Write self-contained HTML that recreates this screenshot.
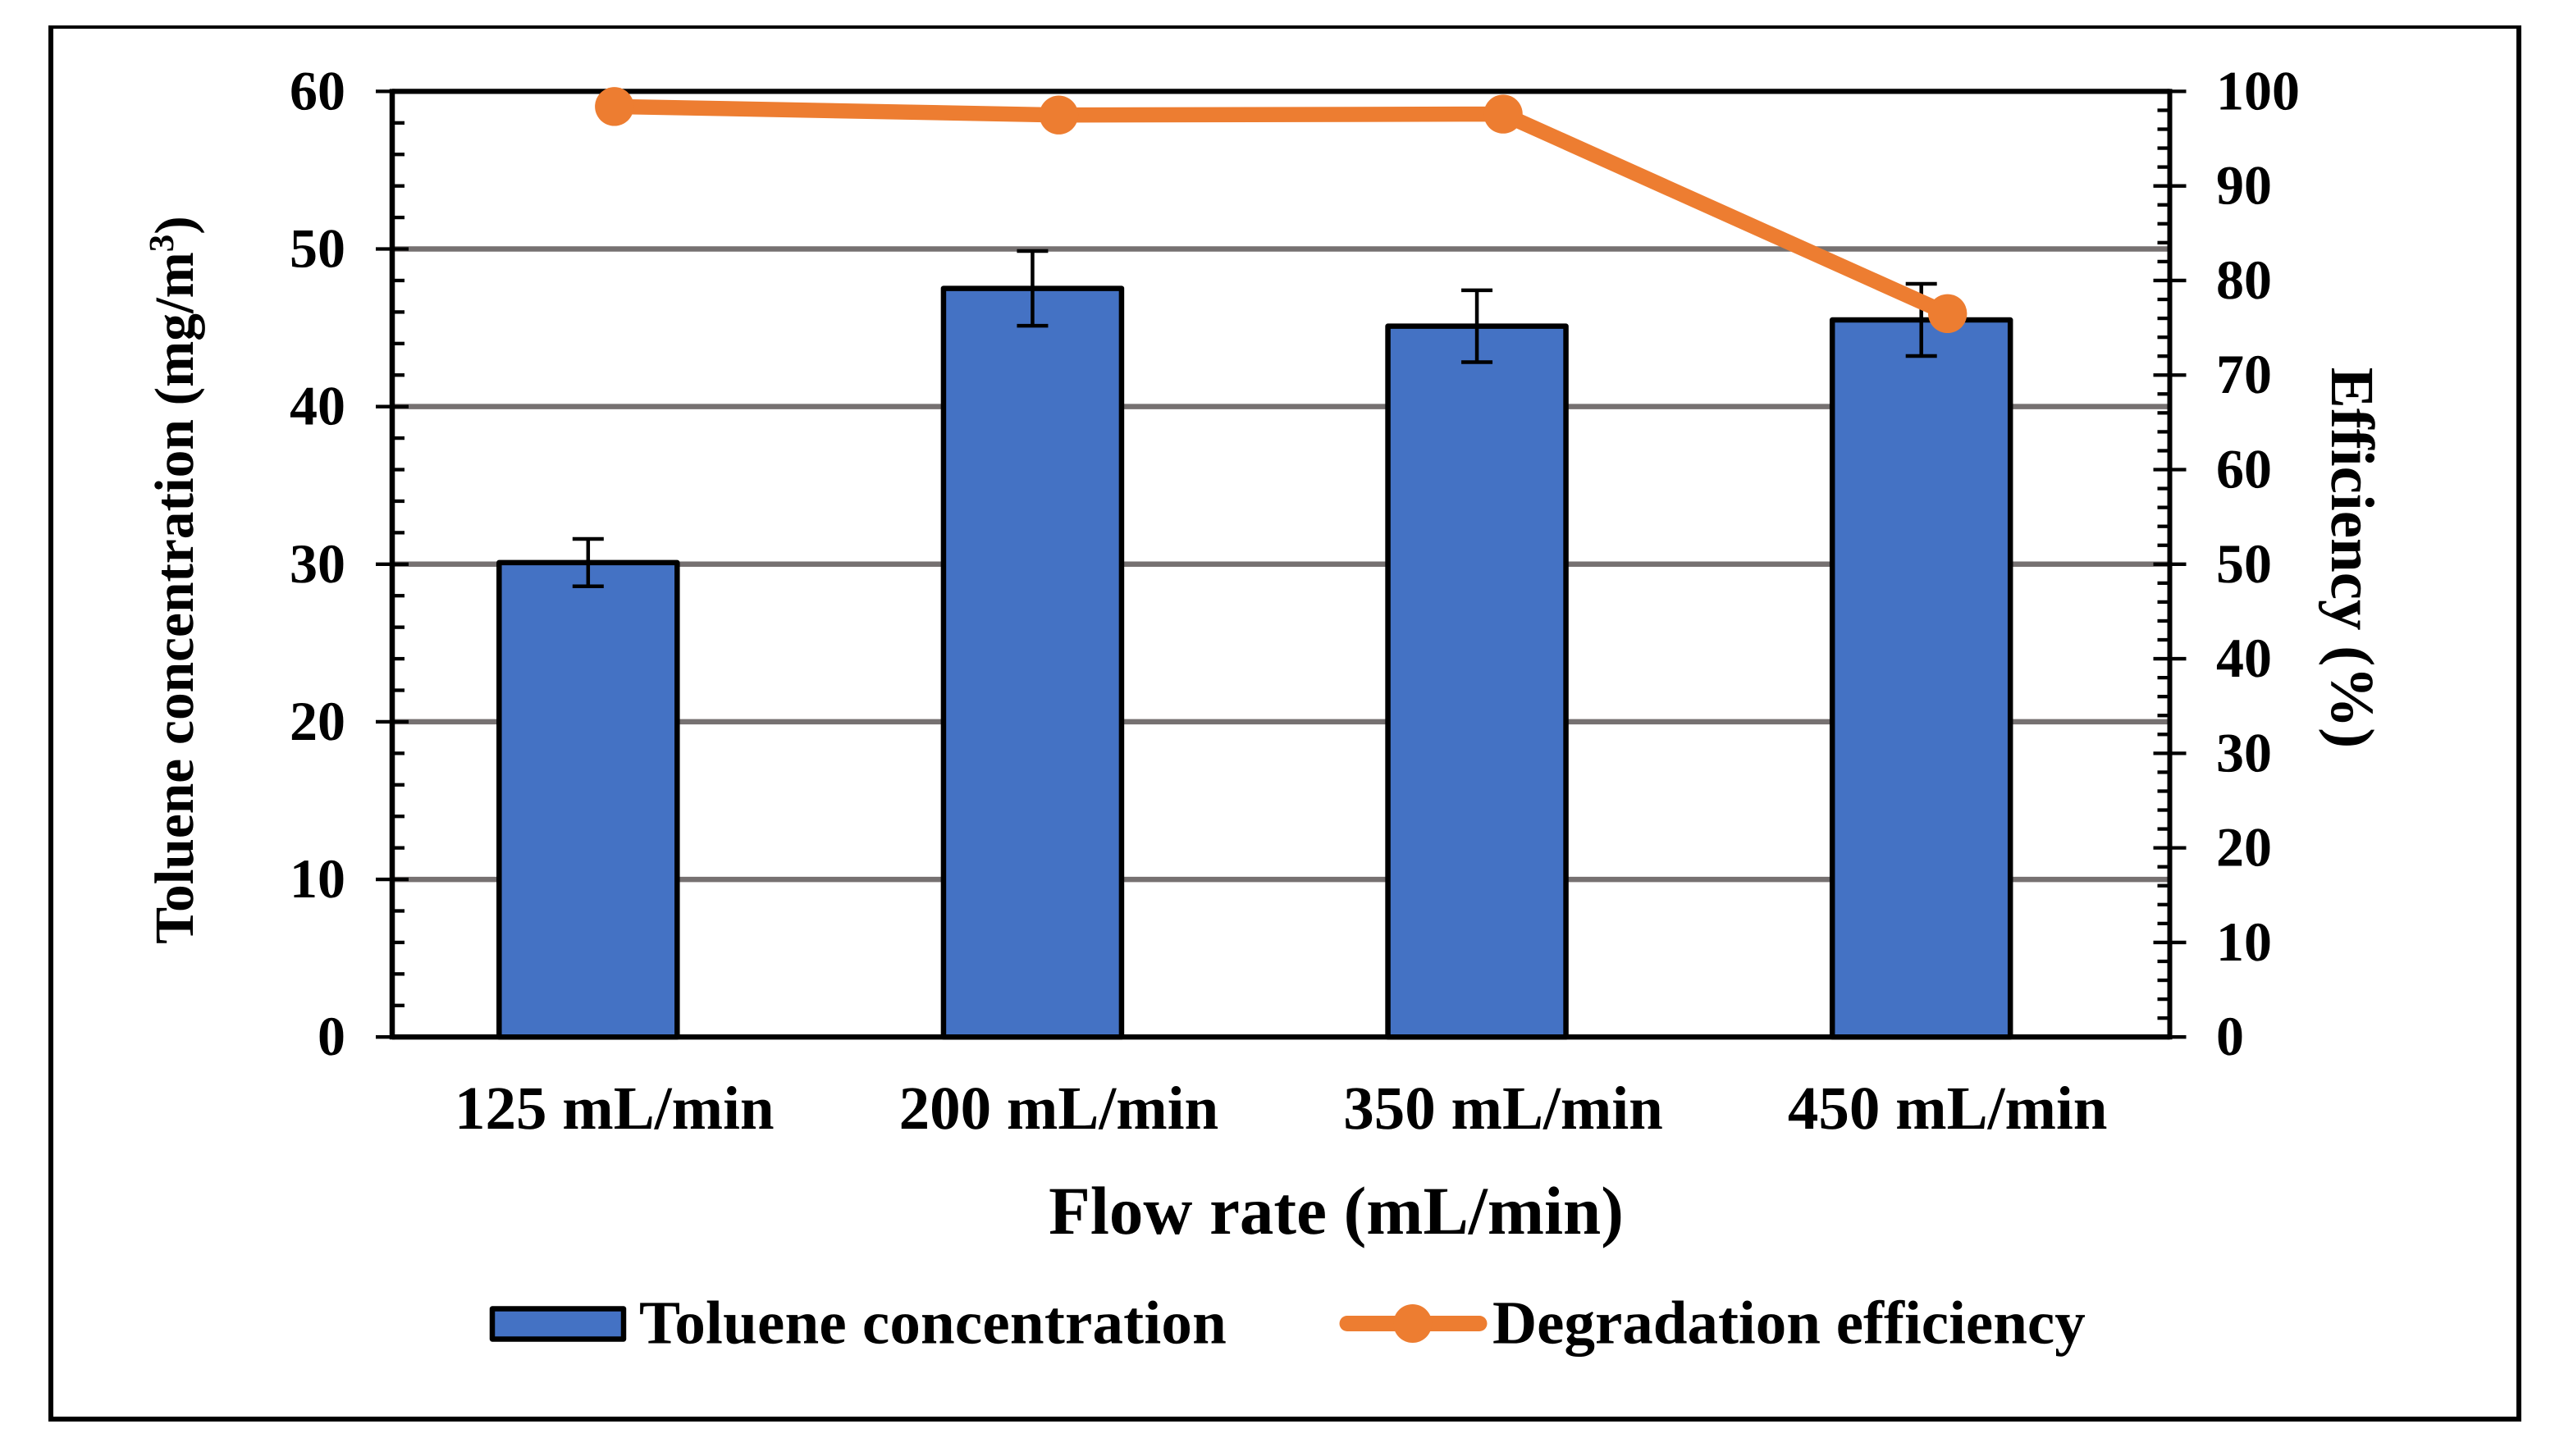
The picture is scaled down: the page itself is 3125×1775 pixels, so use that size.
<!DOCTYPE html>
<html lang="en">
<head>
<meta charset="utf-8">
<title>Toluene concentration and degradation efficiency by flow rate</title>
<style>
  html, body { margin: 0; padding: 0; background: #ffffff; }
  #chart { display: block; width: 3125px; height: 1775px; }
  text { font-family: "Liberation Serif", "Times New Roman", serif; font-weight: 700; fill: #000000; text-rendering: geometricPrecision; }
</style>
</head>
<body>
<svg id="chart" xmlns="http://www.w3.org/2000/svg" width="3125" height="1775" viewBox="0 0 3125 1775">
  <rect x="0" y="0" width="3125" height="1775" fill="#ffffff"/>
  <g stroke="#000000" fill="none">
    <line x1="59" y1="33" x2="3073" y2="33" stroke-width="4"/>
    <line x1="62" y1="31" x2="62" y2="1733" stroke-width="6"/>
    <line x1="3070" y1="31" x2="3070" y2="1733" stroke-width="6"/>
    <line x1="59" y1="1730" x2="3073" y2="1730" stroke-width="6"/>
  </g>
  <g id="plot"></g>
  <text x="1628.5" y="1504" font-size="83" text-anchor="middle">Flow rate (mL/min)</text>
  <text transform="translate(235 707) rotate(-90)" font-size="67.4" text-anchor="middle">Toluene concentration (mg/m<tspan font-size="43" dy="-24">3</tspan><tspan dy="24">)</tspan></text>
  <text transform="translate(2842 680) rotate(90)" font-size="75" text-anchor="middle">Efficiency (%)</text>
  <g>
    <g>
      <rect x="600" y="1595.5" width="160" height="37" fill="#4472C4" stroke="#000000" stroke-width="6.5" stroke-linejoin="round"/>
      <text x="779" y="1637.5" font-size="75" letter-spacing="0.2">Toluene concentration</text>
    </g>
    <g>
      <line x1="1642" y1="1613.5" x2="1803" y2="1613.5" stroke="#ED7D31" stroke-width="19" stroke-linecap="round"/>
      <circle cx="1721.7" cy="1613.5" r="23.5" fill="#ED7D31"/>
      <text x="1819" y="1637.5" font-size="75">Degradation efficiency</text>
    </g>
  </g>
</svg>
<script>
const categories = ["125 mL/min", "200 mL/min", "350 mL/min", "450 mL/min"];
const concentration = [30.1, 47.5, 45.1, 45.5];
const concentrationError = [1.5, 2.37, 2.28, 2.29];
const efficiency = [98.4, 97.5, 97.6, 76.5];
const leftTickLabels = [0, 10, 20, 30, 40, 50, 60];
const rightTickLabels = [0, 10, 20, 30, 40, 50, 60, 70, 80, 90, 100];

const plotLeft = 478;
const plotRight = 2644.5;
const plotTop = 111.4;
const plotBottom = 1264.2;
const leftMax = 60;
const rightMax = 100;
const leftMinorStep = 2;
const rightMinorStep = 2;
const barWidth = 217;
const barOffset = -32;

function xCategory(i) {
  return plotLeft + (plotRight - plotLeft) * (i + 0.5) / categories.length;
}
function yLeft(v) {
  return plotBottom - (plotBottom - plotTop) * v / leftMax;
}
function yRight(v) {
  return plotBottom - (plotBottom - plotTop) * v / rightMax;
}

const plot = document.getElementById('plot');
const svgNS = 'http://www.w3.org/2000/svg';

function make(tag, attrs, parent) {
  const el = document.createElementNS(svgNS, tag);
  for (const key in attrs) {
    el.setAttribute(key, attrs[key]);
  }
  parent.appendChild(el);
  return el;
}

let el;

/* Gridlines */
leftTickLabels.forEach(function (v) {
  if (v === 0 || v === leftMax) return;
  el = make('line', { x1: plotLeft, y1: yLeft(v), x2: plotRight - 3, y2: yLeft(v), stroke: '#767171', 'stroke-width': 6.5 }, plot);
  
  
});

/* Bars */
categories.forEach(function (c, i) {
  const cx = xCategory(i) + barOffset;
  el = make('rect', {
    x: cx - barWidth / 2,
    y: yLeft(concentration[i]),
    width: barWidth,
    height: plotBottom - yLeft(concentration[i]),
    fill: '#4472C4',
    stroke: '#000000',
    'stroke-width': 6.5,
    'stroke-linejoin': 'round'
  }, plot);
  
  
});

/* Error bars */
categories.forEach(function (c, i) {
  const cx = xCategory(i) + barOffset;
  const hi = yLeft(concentration[i] + concentrationError[i]);
  const lo = yLeft(concentration[i] - concentrationError[i]);
  const g = make('g', { stroke: '#000000', 'stroke-width': 4.5 }, plot);
  
  
  el = make('line', { x1: cx, y1: hi, x2: cx, y2: lo }, g);
  
  
  el = make('line', { x1: cx - 19, y1: hi, x2: cx + 19, y2: hi }, g);
  
  
  el = make('line', { x1: cx - 19, y1: lo, x2: cx + 19, y2: lo }, g);
  
  
});

/* Left axis ticks */
for (let v = 0; v <= leftMax; v += leftMinorStep) {
  const isMajor = leftTickLabels.indexOf(v) !== -1;
  const x1 = isMajor ? plotLeft - 20 : plotLeft;
  const x2 = isMajor ? (v === 0 || v === leftMax ? plotLeft : plotLeft + 20) : plotLeft + 15;
  el = make('line', { x1: x1, y1: yLeft(v), x2: x2, y2: yLeft(v), stroke: '#000000', 'stroke-width': 4.3 }, plot);
  
  
}

/* Right axis ticks */
for (let v = 0; v <= rightMax; v += rightMinorStep) {
  const isMajor = rightTickLabels.indexOf(v) !== -1;
  const x1 = isMajor ? (v === 0 || v === rightMax ? plotRight : plotRight - 20) : plotRight - 15;
  const x2 = isMajor ? plotRight + 20 : plotRight;
  el = make('line', { x1: x1, y1: yRight(v), x2: x2, y2: yRight(v), stroke: '#000000', 'stroke-width': 4.3 }, plot);
  
  
}

/* Axis lines */
el = make('line', { x1: plotLeft, y1: plotTop, x2: plotRight, y2: plotTop, stroke: '#000000', 'stroke-width': 6.2 }, plot);


el = make('line', { x1: plotLeft, y1: plotBottom, x2: plotRight, y2: plotBottom, stroke: '#000000', 'stroke-width': 6.4 }, plot);


el = make('line', { x1: plotLeft, y1: plotTop - 3, x2: plotLeft, y2: plotBottom + 3, stroke: '#000000', 'stroke-width': 6.5 }, plot);


el = make('line', { x1: plotRight, y1: plotTop - 3, x2: plotRight, y2: plotBottom + 3, stroke: '#000000', 'stroke-width': 6 }, plot);



/* Tick labels */
leftTickLabels.forEach(function (v) {
  el = make('text', { x: 421, y: yLeft(v) + 22, 'font-size': 68, 'text-anchor': 'end' }, plot);
  
  
  el.textContent = String(v);
});
rightTickLabels.forEach(function (v) {
  el = make('text', { x: 2701, y: yRight(v) + 22, 'font-size': 68, 'text-anchor': 'start' }, plot);
  
  
  el.textContent = String(v);
});
categories.forEach(function (c, i) {
  el = make('text', { x: xCategory(i), y: 1376, 'font-size': 75, 'text-anchor': 'middle' }, plot);
  
  
  el.textContent = c;
});

/* Efficiency line and markers */
const linePoints = efficiency.map(function (v, i) {
  return xCategory(i) + ',' + yRight(v);
}).join(' ');
el = make('polyline', { points: linePoints, fill: 'none', stroke: '#ED7D31', 'stroke-width': 18.5, 'stroke-linejoin': 'round', 'stroke-linecap': 'round' }, plot);


efficiency.forEach(function (v, i) {
  el = make('circle', { cx: xCategory(i), cy: yRight(v), r: 23.7, fill: '#ED7D31' }, plot);
  
  
});
</script>
</body>
</html>
